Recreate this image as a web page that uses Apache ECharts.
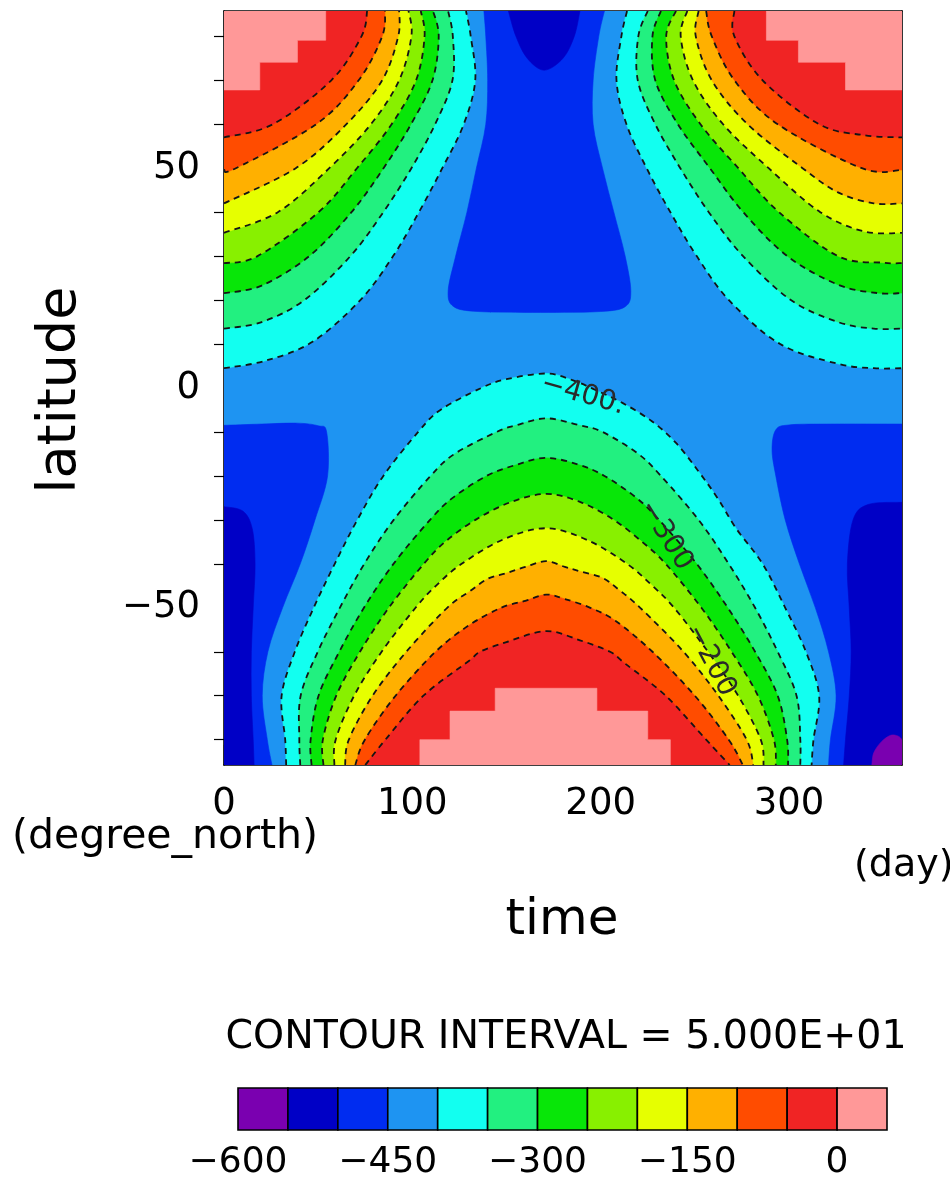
<!DOCTYPE html>
<html><head><meta charset="utf-8">
<script src="https://cdn.jsdelivr.net/npm/echarts@6/dist/echarts.min.js"></script>
<style>html,body{margin:0;padding:0;background:#fff}#c{width:950px;height:1182px}</style>
</head><body><div id="c"></div>
<script>
// ---------------- data ----------------
const bandEdges = [-600,-550,-500,-450,-400,-350,-300,-250,-200,-150,-100,-50,0,50];
const bandColors = ['#7a00b0','#0000c6','#002cf0','#1e94f2','#12fff0','#22f080','#08e608','#88f000','#e6ff00','#ffb000','#ff4c00','#f02424','#ff9898'];
const xTickValues = [0,100,200,300];
const xMinorValues = [20,40,60,80,120,140,160,180,220,240,260,280,320,340];
const yTickValues = [-50,0,50];
const yMinorValues = [-80,-70,-60,-40,-30,-20,-10,10,20,30,40,60,70,80];
const latMin = -85.76, latMax = 85.76;
const contourLevels = [-400,-350,-300,-250,-200,-150,-100,-50];

// contour lines: [day, latitude]
// north-west group (from left edge to top edge)
const nwLines = [
  [[0,4.5],[22,6.2],[47,10.5],[72.4,20],[89.8,30],[103.5,40],[115.9,50],[127.3,60],[133.4,70],[131,80],[128.5,85.76]],
  [[0,13.5],[20,15],[42.7,20],[67.1,30],[84.6,40],[99.5,50],[112.1,60],[121.3,70],[121.5,80],[119,85.76]],
  [[0,21.6],[20,23.3],[45.3,30],[67.7,40],[84.7,50],[99.3,60],[110.7,70],[114,80],[111,85.76]],
  [[0,28.4],[17.8,30],[50.2,40],[70.6,50],[89,60],[102,70],[106.5,80],[104.5,85.76]],
  [[0,35.3],[28.6,40],[55.9,50],[78,60],[93,70],[99.5,80],[98,85.76]],
  [[0,42],[38.1,50],[65,60],[84,70],[92.5,80],[93,85.76]],
  [[0,49.6],[6.3,50],[49,60],[71.5,70],[84,80],[85.5,85.76]],
  [[0,57],[26,60],[57,70],[73,80],[76,85.76]]
];
// north-east group (from top edge to right edge)
const neLines = [
  [[214,85.76],[211,80],[208.4,70],[213.7,60],[224.4,50],[237,40],[251,30],[268.1,20],[295.3,10],[326,5.5],[345,4.5],[360,4.5]],
  [[225,85.76],[220,80],[219.7,70],[229,60],[242.3,50],[257.4,40],[275.6,30],[301,20],[326,15],[345,13.5],[360,13.5]],
  [[232,85.76],[227.5,80],[229,70],[241,60],[258,50],[275.7,40],[299.1,30],[326,23.5],[347,21.6],[360,21.6]],
  [[240,85.76],[234.8,80],[239,70],[253,60],[273.1,50],[294.7,40],[326,30],[350,28.5],[360,28.4]],
  [[246,85.76],[242.5,80],[249,70],[265,60],[289.2,50],[316.6,40],[340,35.6],[360,35.3]],
  [[252,85.76],[250.5,80],[259,70],[278,60],[307.2,50],[326,44.5],[345,42],[360,42]],
  [[256,85.76],[259,80],[271,70],[294,60],[338.7,50],[360,49.6]],
  [[271,85.76],[271,80],[286,70],[316,60],[340,57.5],[360,57]]
];
// southern arches (from bottom edge round to bottom edge)
const sArches = [
  [[33,-85.76],[32.5,-80],[30.6,-70],[37.6,-60],[47.6,-50],[58.8,-40],[70.8,-30],[84.6,-20],[103.1,-10],[114.9,-5],[136.6,0],[150,2],[171,3.3],[185,1.8],[198,-0.6],[212,-3.5],[227,-7.5],[240,-12.5],[252,-19],[262,-25],[272,-32],[286,-40],[298,-50],[309,-60],[316,-70],[313,-80],[312,-85.76]],
  [[40.5,-85.76],[40,-80],[40.7,-70],[49.8,-60],[61.5,-50],[74.5,-40],[90.1,-30],[109.7,-20],[122.4,-15],[144.7,-10],[155,-8.5],[171,-6.9],[188,-8.4],[201,-10],[220,-15],[232,-20],[252,-30],[268,-40],[282,-50],[294,-60],[304,-70],[306,-80],[306,-85.76]],
  [[46.5,-85.76],[46,-80],[50.2,-70],[61.2,-60],[74.3,-50],[90,-40],[109.4,-30],[121.4,-25],[139.4,-20],[155,-17.5],[171,-15.9],[188,-17.4],[202,-20],[219,-25],[231,-30],[251,-40],[267.5,-50],[282,-60],[294,-70],[299,-80],[299.5,-85.76]],
  [[52.8,-85.76],[52.5,-80],[59.6,-70],[72.2,-60],[87.5,-50],[106.1,-40],[117.4,-35],[133.5,-30],[152,-26],[171,-24.1],[189,-25.9],[207,-30],[222,-35],[234.5,-40],[253.5,-50],[269.5,-60],[283.5,-70],[292,-80],[293,-85.76]],
  [[58.6,-85.76],[59.3,-80],[69.1,-70],[83.7,-60],[101.7,-50],[112.5,-45],[126.2,-40],[148,-34.5],[171,-31.9],[193,-34.6],[214,-40],[227.5,-45],[239,-50],[257,-60],[273,-70],[285,-80],[286.5,-85.76]],
  [[64.3,-85.76],[66.3,-80],[78.9,-70],[96.8,-60],[118.5,-50],[130,-46.4],[140,-43.4],[150,-42.1],[160,-40.7],[171,-39.4],[181,-40.7],[189,-41.7],[201,-43.2],[210,-46],[221,-50],[244,-60],[262.5,-70],[277.5,-80],[281,-85.76]],
  [[69.7,-85.76],[74.8,-80],[91.1,-70],[112.3,-60],[130,-54],[147.1,-50],[160,-48.4],[171,-47],[181,-48],[194.5,-50],[208,-53],[227.5,-60],[250,-70],[268,-80],[275.5,-85.76]],
  [[75,-85.76],[85.7,-80],[105.9,-70],[130,-62.1],[136,-60],[150,-57.8],[171,-55.3],[189,-57.4],[205,-60],[213,-62.7],[234.5,-70],[256,-80],[268.5,-85.76]]
];
// low-value areas (-450, -500, -550 contours)
const north450 = [[138,85.76],[139,80],[140,70],[139,60],[134,50],[129,40],[123,30],[119,22],[122,18.5],[135,17.4],[168,17.2],[200,17.4],[213,18.5],[216,22],[213,30],[207,40],[201,50],[196,60],[196,70],[199,80],[202,85.76]];
const north500 = [[151,85.76],[155,80],[161,75],[170,72.3],[180,75],[186,80],[189,85.76]];
const southWest450 = [[0,-8.5],[20,-8.2],[39,-8],[50,-8.6],[54.5,-10],[55,-20],[48.3,-30],[40.5,-40],[31.1,-50],[23.3,-60],[20.3,-70],[23,-80],[25.5,-85.76]];
const southWest500 = [[0,-27],[10,-28],[15,-32],[16.5,-40],[15.5,-50],[14.5,-60],[14.5,-70],[15.5,-80],[16,-85.76]];
const southEast450 = [[360,-8.2],[320,-8.2],[300,-8.4],[293,-9.5],[291,-14],[293,-20],[298,-30],[305.5,-40],[314,-50],[321,-60],[325,-70],[322,-80],[321,-85.76]];
const southEast500 = [[360,-26],[342,-26.5],[334,-30],[331,-40],[332,-50],[333,-60],[332,-70],[330,-80],[329,-85.76]];
const southEast550 = [[344,-85.76],[345,-83],[349,-80.5],[354,-79],[358,-79.2],[360,-80]];
// zero-value (polar night) cells
const pinkNW = [[0,85.76],[54,85.76],[54,79.1],[39,79.1],[39,74.1],[19,74.1],[19,67.8],[0,67.8]];
const pinkNE = [[288,85.76],[360,85.76],[360,67.8],[330,67.8],[330,74.1],[305,74.1],[305,79.1],[288,79.1]];
const pinkS = [[104,-85.76],[104,-80],[120,-80],[120,-73.5],[144,-73.5],[144,-68.3],[198,-68.3],[198,-73.5],[225,-73.5],[225,-80],[237,-80],[237,-85.76]];
// contour labels: text, day, latitude, angle
const contourLabels = [['−400.',190.5,-1.6,-16],['−300',234.5,-33.5,-58],['−200',258.5,-62,-62]];

// ---------------- build ----------------
const colAbove = c => bandColors[(c + 600) / 50];
const colBelow = c => bandColors[(c + 600) / 50 - 1];
const fills = [];
fills.push({pts:[[0,latMin],[360,latMin],[360,latMax],[0,latMax]], close:[], color: bandColors[3], smooth:false});
fills.push({pts:southWest450, close:[[0,latMin]], color: colBelow(-450), smooth:true});
fills.push({pts:southWest500, close:[[0,latMin]], color: colBelow(-500), smooth:true});
fills.push({pts:southEast450, close:[[360,latMin]], color: colBelow(-450), smooth:true});
fills.push({pts:southEast500, close:[[360,latMin]], color: colBelow(-500), smooth:true});
fills.push({pts:southEast550, close:[[360,latMin]], color: colBelow(-550), smooth:true});
fills.push({pts:north450, close:[], color: colBelow(-450), smooth:true});
fills.push({pts:north500, close:[], color: colBelow(-500), smooth:true});
contourLevels.forEach((c, i) => {
  fills.push({pts:nwLines[i], close:[[0,latMax]], color: colAbove(c), smooth:true});
  fills.push({pts:neLines[i], close:[[360,latMax]], color: colAbove(c), smooth:true});
  fills.push({pts:sArches[i], close:[], color: colAbove(c), smooth:true});
});
fills.push({pts:pinkNW, close:[], color: colAbove(0), smooth:false});
fills.push({pts:pinkNE, close:[], color: colAbove(0), smooth:false});
fills.push({pts:pinkS, close:[], color: colAbove(0), smooth:false});

const lines = [];
contourLevels.forEach((c, i) => { lines.push(nwLines[i], neLines[i], sArches[i]); });

function smoothD(px){
  let d = 'M' + px[0][0].toFixed(2) + ' ' + px[0][1].toFixed(2);
  for (let i = 0; i < px.length - 1; i++) {
    const p0 = px[i-1] || px[i], p1 = px[i], p2 = px[i+1], p3 = px[i+2] || px[i+1];
    const c1 = [p1[0] + (p2[0]-p0[0])/6, p1[1] + (p2[1]-p0[1])/6];
    const c2 = [p2[0] - (p3[0]-p1[0])/6, p2[1] - (p3[1]-p1[1])/6];
    d += ' C' + c1[0].toFixed(2) + ' ' + c1[1].toFixed(2) + ' ' + c2[0].toFixed(2) + ' ' + c2[1].toFixed(2) + ' ' + p2[0].toFixed(2) + ' ' + p2[1].toFixed(2);
  }
  return d;
}
function straightD(px){
  return 'M' + px.map(p => p[0].toFixed(2) + ' ' + p[1].toFixed(2)).join(' L');
}
const minus = v => (v < 0 ? '\u2212' + Math.abs(v) : String(v));
const FONT = '"DejaVu Sans", "Liberation Sans", sans-serif';

function majorX(pos){ return {gridIndex:0, type:'value', min:0, max:360, position:pos,
  axisLine:{show:true, onZero:false, lineStyle:{color:'#000', width:1.6}},
  axisTick:{show:true, inside:true, length:20, customValues:xTickValues, lineStyle:{color:'#000', width:1.4}},
  axisLabel:{show:pos==='bottom', customValues:xTickValues, margin:21, fontSize:37, fontFamily:FONT, color:'#000'},
  splitLine:{show:false}}; }
function minorX(pos){ return {gridIndex:0, type:'value', min:0, max:360, position:pos,
  axisLine:{show:false}, axisLabel:{show:false}, splitLine:{show:false},
  axisTick:{show:true, inside:true, length:10, customValues:xMinorValues, lineStyle:{color:'#000', width:1.2}}}; }
function majorY(pos){ return {gridIndex:0, type:'value', min:latMin, max:latMax, position:pos,
  axisLine:{show:true, onZero:false, lineStyle:{color:'#000', width:1.6}},
  axisTick:{show:true, inside:true, length:20, customValues:yTickValues, lineStyle:{color:'#000', width:1.4}},
  axisLabel:{show:pos==='left', customValues:yTickValues, margin:24, fontSize:37, fontFamily:FONT, color:'#000', formatter:minus},
  splitLine:{show:false}}; }
function minorY(pos){ return {gridIndex:0, type:'value', min:latMin, max:latMax, position:pos,
  axisLine:{show:false}, axisLabel:{show:false}, splitLine:{show:false},
  axisTick:{show:true, inside:true, length:10, customValues:yMinorValues, lineStyle:{color:'#000', width:1.2}}}; }

const chart = echarts.init(document.getElementById('c'), null, {renderer:'canvas'});
chart.setOption({
  animation:false,
  backgroundColor:'#fff',
  grid:[
    {left:224, top:11, width:678, height:754, show:false},
    {left:238, top:1088, width:649, height:42, show:false}
  ],
  xAxis:[majorX('bottom'), minorX('bottom'), majorX('top'), minorX('top'),
    {gridIndex:1, type:'value', min:-600, max:50, interval:150,
     axisLine:{show:false}, axisTick:{show:false}, splitLine:{show:false},
     axisLabel:{show:true, showMaxLabel:false, margin:15, fontSize:36, fontFamily:FONT, color:'#000', formatter:minus}}],
  yAxis:[majorY('left'), minorY('left'), majorY('right'), minorY('right'),
    {gridIndex:1, type:'value', min:0, max:1, show:false}],
  series:[
    {type:'custom', name:'fills', xAxisIndex:0, yAxisIndex:0, clip:true, silent:true,
     data: fills.map(f => f.pts[0]),
     renderItem(params, api){
       const f = fills[params.dataIndex];
       const px = f.pts.map(p => api.coord(p));
       let d = f.smooth ? smoothD(px) : straightD(px);
       f.close.forEach(p => { const q = api.coord(p); d += ' L' + q[0].toFixed(2) + ' ' + q[1].toFixed(2); });
       d += ' Z';
       return {type:'path', z2:params.dataIndex, shape:{pathData:d}, style:{fill:f.color, stroke:f.color, lineWidth:0.6}};
     }},
    {type:'custom', name:'contours', xAxisIndex:0, yAxisIndex:0, clip:true, silent:true, z:3,
     data: lines.map(l => l[0]),
     renderItem(params, api){
       const px = lines[params.dataIndex].map(p => api.coord(p));
       return {type:'path', shape:{pathData:smoothD(px)}, style:{fill:'none', stroke:'#141414', lineWidth:1.8, lineDash:[6,5]}};
     }},
    {type:'custom', name:'labels', xAxisIndex:0, yAxisIndex:0, silent:true, z:4,
     data: contourLabels.map(l => [l[1], l[2]]),
     renderItem(params, api){
       const l = contourLabels[params.dataIndex];
       const p = api.coord([l[1], l[2]]);
       return {type:'text', x:p[0], y:p[1], rotation:l[3]*Math.PI/180,
         style:{text:l[0], fill:'#2a2a2a', font:'28px ' + FONT, align:'center', verticalAlign:'middle'}};
     }},
    {type:'custom', name:'colorbar', xAxisIndex:4, yAxisIndex:4, silent:true,
     data: bandColors.map((c, i) => [bandEdges[i], bandEdges[i+1]]),
     renderItem(params, api){
       const a = api.coord([api.value(0), 1]);
       const b = api.coord([api.value(1), 0]);
       return {type:'rect', shape:{x:a[0], y:a[1], width:b[0]-a[0], height:b[1]-a[1]},
         style:{fill:bandColors[params.dataIndex], stroke:'#000', lineWidth:1.6}};
     }}
  ],
  graphic:[
    {type:'text', x:61, y:390, rotation:Math.PI/2, style:{text:'latitude', font:'54px ' + FONT, fill:'#000', align:'center', verticalAlign:'middle'}},
    {type:'text', x:165, y:837, style:{text:'(degree_north)', font:'41px ' + FONT, fill:'#000', align:'center', verticalAlign:'middle'}},
    {type:'text', x:854, y:866, style:{text:'(day)', font:'38px ' + FONT, fill:'#000', align:'left', verticalAlign:'middle'}},
    {type:'text', x:562, y:921, style:{text:'time', font:'50px ' + FONT, fill:'#000', align:'center', verticalAlign:'middle'}},
    {type:'text', x:566, y:1038, style:{text:'CONTOUR INTERVAL = 5.000E+01', font:'39.5px ' + FONT, fill:'#000', align:'center', verticalAlign:'middle'}}
  ]
});
</script></body></html>
